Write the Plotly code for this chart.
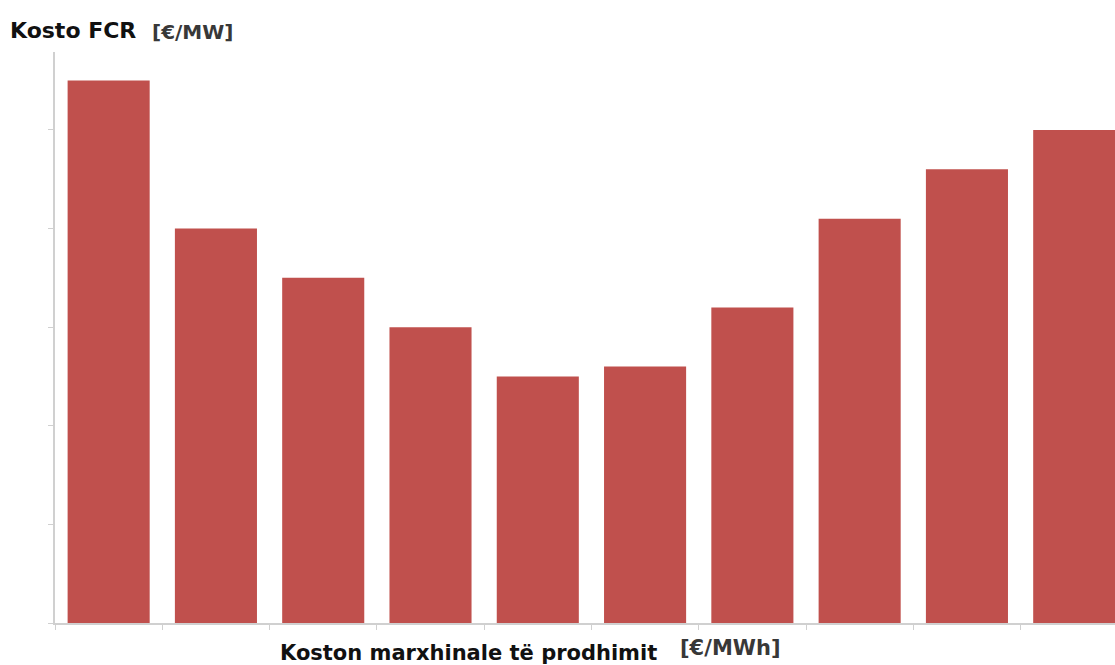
import plotly.graph_objects as go

# bar heights (axis has no numeric labels, units = tick steps)
categories = list(range(10))
values = [5.5, 4.0, 3.5, 3.0, 2.5, 2.6, 3.2, 4.1, 4.6, 5.0]
y_ticks = [0, 1, 2, 3, 4, 5]
x_ticks = [-0.5, 0.5, 1.5, 2.5, 3.5, 4.5, 5.5, 6.5, 7.5, 8.5]

bar_color = "#C0504D"
axis_color = "#D0D0D0"

# plot area is 1060 x 571 px
PW, PH = 1060, 571

fig = go.Figure()
fig.add_trace(go.Bar(
    x=categories,
    y=values,
    width=0.765,
    marker=dict(color=bar_color, line=dict(width=0)),
    hoverinfo="y",
))

fig.update_layout(
    width=1115,
    height=665,
    margin=dict(l=55, r=0, t=52, b=42),
    paper_bgcolor="white",
    plot_bgcolor="white",
    showlegend=False,
    font=dict(family="DejaVu Sans", color="#1a1a1a"),
)

fig.update_xaxes(
    range=[-0.5, 9.38],
    tickvals=x_ticks,
    showticklabels=False,
    ticks="outside",
    ticklen=5,
    tickcolor=axis_color,
    showline=True,
    linecolor=axis_color,
    linewidth=1.5,
    showgrid=False,
    zeroline=False,
)
fig.update_yaxes(
    range=[0, 5.79],
    tickvals=y_ticks,
    showticklabels=False,
    ticks="outside",
    ticklen=5,
    tickcolor=axis_color,
    showline=True,
    linecolor=axis_color,
    linewidth=1.5,
    showgrid=False,
    zeroline=False,
)

# axis titles as annotations, placed like the source
fig.add_annotation(
    text="<b>Kosto FCR</b>", xref="paper", yref="paper",
    x=-47 / PW, y=1 + 22 / PH, xanchor="left", yanchor="middle",
    showarrow=False, font=dict(size=22, color="#111111"),
)
fig.add_annotation(
    text="<b>[€/MW]</b>", xref="paper", yref="paper",
    x=95 / PW, y=1 + 20 / PH, xanchor="left", yanchor="middle",
    showarrow=False, font=dict(size=20, color="#383838"),
)
fig.add_annotation(
    text="<b>Koston marxhinale të prodhimit</b>", xref="paper", yref="paper",
    x=223 / PW, y=-30 / PH, xanchor="left", yanchor="middle",
    showarrow=False, font=dict(size=21, color="#111111"),
)
fig.add_annotation(
    text="<b>[€/MWh]</b>", xref="paper", yref="paper",
    x=623 / PW, y=-25 / PH, xanchor="left", yanchor="middle",
    showarrow=False, font=dict(size=21, color="#383838"),
)

# drop the default page margin so the figure fills the window
fig.write_html(
    "out.html",
    config={"displayModeBar": False},
    post_script="document.body.style.margin='0';document.body.style.overflow='hidden';",
)
